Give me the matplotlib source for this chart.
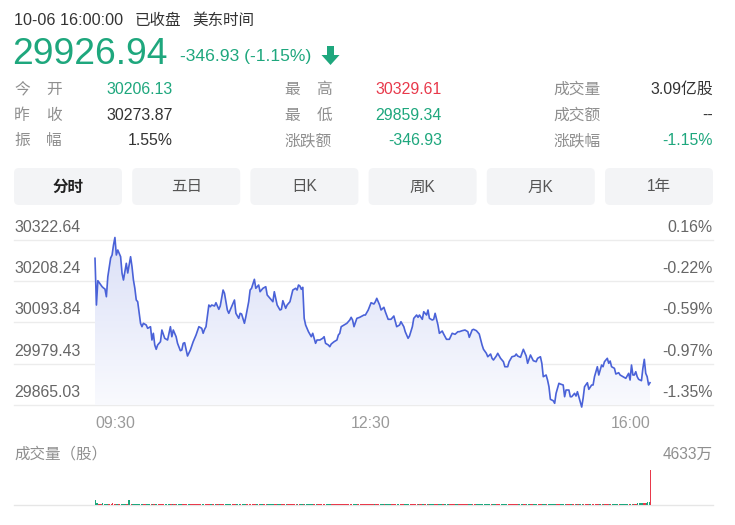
import numpy as np
import matplotlib
matplotlib.use('Agg')
import matplotlib.pyplot as plt
import matplotlib.transforms as mtransforms
from matplotlib.patches import FancyBboxPatch, Polygon, PathPatch
from matplotlib.path import Path
from matplotlib.colors import LinearSegmentedColormap

FONT = ['Liberation Sans', 'Noto Sans CJK SC']
plt.rcParams['font.family'] = FONT

# ---------------- data ----------------
header_time = '10-06 16:00:00'
header_status = '已收盘'
header_zone = '美东时间'
last_price = '29926.94'
change_text = '-346.93 (-1.15%)'
prev_close = 30273.87

stat_labels = [['今开', '昨收', '振幅'],
               ['最高', '最低', '涨跌额'],
               ['成交量', '成交额', '涨跌幅']]
stat_values = [['30206.13', '30273.87', '1.55%'],
               ['30329.61', '29859.34', '-346.93'],
               ['3.09亿股', '--', '-1.15%']]
stat_kinds = [['down', 'flat', 'flat'],
              ['up', 'down', 'down'],
              ['flat', 'flat', 'down']]

tabs = ['分时', '五日', '日K', '周K', '月K', '1年']

price_levels = [30322.64, 30208.24, 30093.84, 29979.43, 29865.03]
time_labels = ['09:30', '12:30', '16:00']
time_ticks = [0, 180, 390]
volume_title = '成交量（股）'
volume_max_label = '4633万'
volume_max = 4633

minutes = [0, 1, 2, 5, 6, 7, 8, 9, 11, 12, 13, 14, 15, 16, 18, 19, 20, 22, 23, 25,
           26, 27, 28, 29, 30, 32, 33, 34, 36, 37, 39, 40, 41, 42, 43, 44, 46, 47, 49, 51,
           53, 54, 55, 57, 58, 60, 61, 62, 63, 65, 67, 69, 71, 73, 75, 76, 77, 78, 80, 81,
           82, 84, 85, 87, 88, 90, 91, 93, 94, 96, 98, 99, 101, 102, 103, 105, 106, 108, 109, 110,
           112, 113, 115, 116, 118, 120, 121, 123, 125, 126, 128, 130, 131, 132, 134, 135, 137, 139, 141, 142,
           143, 144, 145, 146, 147, 148, 150, 152, 153, 155, 156, 158, 160, 161, 162, 164, 165, 166, 168, 170,
           171, 172, 173, 175, 177, 179, 180, 181, 182, 184, 186, 189, 190, 192, 194, 196, 197, 198, 200, 201,
           203, 204, 206, 208, 210, 212, 214, 215, 217, 218, 220, 221, 223, 224, 226, 227, 228, 230, 231, 233,
           234, 235, 237, 238, 239, 241, 242, 244, 245, 247, 249, 251, 253, 255, 256, 258, 260, 262, 263, 265,
           266, 268, 270, 272, 273, 275, 276, 278, 279, 280, 282, 283, 285, 287, 288, 290, 291, 293, 295, 296,
           297, 299, 301, 303, 304, 306, 308, 310, 311, 313, 314, 315, 317, 318, 319, 320, 322, 323, 324, 326,
           327, 329, 330, 331, 333, 334, 335, 337, 338, 339, 340, 342, 343, 344, 346, 347, 349, 350, 351, 353,
           354, 356, 357, 358, 360, 361, 362, 363, 365, 366, 368, 369, 371, 373, 375, 376, 377, 378, 379, 380,
           381, 382, 384, 385, 386, 387, 388, 389, 390]

prices = [30271.9, 30142.3, 30209.8, 30193.1, 30189.5, 30186.7, 30165.3, 30220.8, 30272.7, 30281.0,
          30308.8, 30329.61, 30281.0, 30294.9, 30276.3, 30230.3, 30211.7, 30258.0, 30231.1, 30276.3,
          30248.6, 30211.7, 30188.7, 30156.2, 30151.5, 30091.6, 30082.2, 30091.6, 30086.9, 30077.7,
          30082.2, 30045.3, 30063.9, 30031.4, 30019.5, 30031.4, 30040.6, 30073.0, 30050.0, 30045.3,
          30082.2, 30054.4, 30073.0, 30054.4, 30036.1, 30015.6, 30017.5, 30036.1, 30037.8, 30000.9,
          30017.5, 30040.6, 30059.1, 30082.2, 30077.7, 30063.9, 30074.9, 30082.2, 30142.3, 30137.6,
          30142.3, 30139.6, 30148.7, 30130.4, 30139.6, 30183.9, 30174.8, 30128.5, 30119.3, 30137.6,
          30156.2, 30119.3, 30105.4, 30119.3, 30117.4, 30091.6, 30109.9, 30151.5, 30183.9, 30188.7,
          30213.6, 30188.7, 30197.8, 30179.2, 30188.7, 30193.1, 30170.1, 30160.9, 30151.5, 30179.2,
          30142.3, 30128.5, 30130.4, 30154.3, 30133.2, 30142.3, 30151.5, 30183.9, 30188.7, 30183.9,
          30197.8, 30195.0, 30185.9, 30191.4, 30105.4, 30086.9, 30068.3, 30054.4, 30063.9, 30036.1,
          30045.3, 30045.3, 30050.0, 30054.4, 30036.1, 30031.4, 30026.7, 30034.2, 30040.6, 30045.3,
          30059.1, 30063.9, 30082.2, 30086.9, 30091.6, 30100.7, 30108.2, 30100.7, 30082.2, 30105.4,
          30108.2, 30114.6, 30114.6, 30128.5, 30148.7, 30145.1, 30151.5, 30160.9, 30142.3, 30128.5,
          30136.0, 30123.7, 30102.7, 30102.7, 30111.8, 30082.2, 30086.9, 30096.0, 30082.2, 30068.3,
          30050.0, 30056.4, 30082.2, 30105.4, 30114.6, 30108.2, 30114.6, 30102.7, 30123.7, 30114.6,
          30128.5, 30105.4, 30100.7, 30102.7, 30119.3, 30086.9, 30063.9, 30070.2, 30061.9, 30047.2,
          30047.2, 30063.9, 30061.1, 30068.3, 30068.3, 30071.1, 30073.0, 30068.3, 30052.7, 30073.0,
          30074.9, 30071.1, 30061.9, 30031.4, 30019.5, 30008.4, 29998.9, 30006.4, 29994.5, 29989.8,
          30000.9, 30008.4, 29994.5, 29985.1, 29971.2, 29971.2, 29985.1, 29998.9, 30000.9, 30006.4,
          30000.9, 29997.3, 30019.5, 30000.9, 29980.6, 30003.7, 29987.9, 29985.1, 29994.5, 29998.9,
          29980.6, 29943.5, 29948.2, 29934.3, 29915.7, 29880.8, 29876.9, 29869.7, 29897.4, 29925.2,
          29923.2, 29920.5, 29888.0, 29906.6, 29906.6, 29888.0, 29888.0, 29897.4, 29889.9, 29901.9,
          29888.0, 29859.34, 29883.6, 29915.7, 29926.8, 29908.5, 29920.5, 29920.5, 29943.5, 29971.2,
          29948.2, 29975.9, 29971.2, 29985.1, 29994.5, 29980.6, 29987.0, 29971.2, 29966.8, 29951.0,
          29954.6, 29948.2, 29943.5, 29939.0, 29952.9, 29934.3, 29975.9, 29948.2, 29948.2, 29957.4,
          29943.5, 29936.3, 29932.4, 29966.8, 29991.7, 29952.9, 29943.5, 29920.5, 29926.94]

volumes = [650, 210, 190, 200, 180, 170, 185, 175, 190, 200, 180, 170, 165, 175, 185, 170, 160, 175, 620,
           130, 110, 120, 95, 105, 125, 100, 90, 115, 105,
           98, 112, 104, 88, 120, 96, 108, 92, 101, 115,
           94, 106, 99, 87, 118, 103, 91, 109, 97, 102,
           89, 111, 95, 104, 86, 99, 113, 92, 100, 107,
           93, 88, 105, 97, 110, 84, 96, 102, 90, 99,
           86, 94, 101, 83, 97, 108, 91, 88, 95, 100,
           82, 90, 97, 86, 104, 93, 81, 95, 89, 98,
           85, 92, 80, 96, 88, 101, 87, 83, 94, 90,
           79, 87, 93, 84, 99, 81, 90, 86, 95, 83,
           88, 80, 92, 85, 78, 96, 84, 89, 82, 91,
           77, 86, 83, 94, 80, 88, 85, 79, 92, 84,
           81, 89, 76, 87, 83, 90, 78, 86, 82, 93,
           85, 79, 91, 83, 88, 77, 84, 90, 80, 86,
           92, 84, 89, 95, 86, 98, 90, 87, 101, 93,
           96, 88, 103, 91, 99, 94, 106, 89, 97, 102,
           95, 108, 99, 92, 104, 97, 110, 101, 94, 105,
           112, 98, 107, 103, 115, 100, 109, 118, 104, 111,
           106, 120, 113, 101, 116, 109, 124, 112, 107, 119,
           115, 110, 126, 118, 108, 121, 114, 129, 117, 123,
           119, 131, 112, 125, 120, 134, 116, 128, 122, 137,
           125, 118, 132, 127, 140, 121, 135, 129, 144, 131,
           138, 126, 142, 133, 147, 136, 129, 151, 140, 145,
           148, 139, 155, 143, 160, 150, 146, 162, 153, 158,
           165, 157, 170, 161, 176, 168, 182, 174, 190, 185,
           198, 210, 225, 240, 260, 285, 310, 340, 380, 4633]

# ---------------- styling ----------------
GREEN = '#1ea77d'
RED = '#e8394b'
DARK = '#333333'
GRAY = '#8f8f8f'
AXGRAY = '#666666'
LINE = '#4a62d8'
GRID = '#ececec'
kind_color = {'up': RED, 'down': GREEN, 'flat': DARK}

W, H = 735, 525
fig = plt.figure(figsize=(W / 100, H / 100), dpi=100)

# overlay axes in pixel coordinates (y downward)
ov = fig.add_axes([0, 0, 1, 1])
ov.set_xlim(0, W)
ov.set_ylim(H, 0)
ov.axis('off')

# header
ov.text(14, 25, header_time, fontsize=11.6, color=DARK, va='baseline')
ov.text(135, 25, header_status, fontsize=11.2, color=DARK, va='baseline')
ov.text(192, 25, header_zone, fontsize=11.2, color=DARK, va='baseline')
ov.text(12, 64, last_price, fontsize=26.8, color=GREEN, va='baseline')
ov.text(180, 61, change_text, fontsize=12.6, color=GREEN, va='baseline')
ov.add_patch(Polygon([(327, 46), (334, 46), (334, 55), (339.5, 55), (330.5, 65),
                      (321.5, 55), (327, 55)], closed=True, fc=GREEN, ec='none'))

# stats
label_x = [14, 284, 553]
value_x = [173, 442, 713]
row_y = [94, 120, 145]
for c in range(3):
    for r in range(3):
        lab = stat_labels[c][r]
        y = row_y[r]
        if len(lab) == 2:
            ov.text(label_x[c], y, lab[0], fontsize=11.3, color=GRAY, va='baseline', ha='left')
            ov.text(label_x[c] + 48, y, lab[1], fontsize=11.3, color=GRAY, va='baseline', ha='right')
        else:
            ov.text(label_x[c], y, lab, fontsize=11.3, color=GRAY, va='baseline', ha='left')
        ov.text(value_x[c], y, stat_values[c][r], fontsize=11.4,
                color=kind_color[stat_kinds[c][r]], va='baseline', ha='right')

# tabs
bw, gap = 108, 10.2
for i, t in enumerate(tabs):
    x0 = 14 + i * (bw + gap)
    ov.add_patch(FancyBboxPatch((x0, 168), bw, 37, boxstyle='round,pad=0,rounding_size=5',
                                fc='#f3f4f6', ec='none'))
    ov.text(x0 + bw / 2, 187, t, fontsize=11.2, ha='center', va='center',
            color='#222222' if i == 0 else '#555555',
            fontweight='bold' if i == 0 else 'normal')

# ---------------- price chart ----------------
ax = fig.add_axes([95 / W, 1 - 405 / H, 555 / W, 165 / H])
ax.axis('off')
ymin, ymax = price_levels[-1], price_levels[0]
xl, xr = (14 - 95) / 555, (713 - 95) / 555
for v in price_levels:
    ax.axhline(v, xmin=xl, xmax=xr, color=GRID, lw=1, clip_on=False, zorder=0)
    pct = (v / prev_close - 1) * 100
    ax.annotate(f'{v:.2f}', xy=(14 / W, v), xycoords=('figure fraction', 'data'),
                xytext=(0, 8), textcoords='offset pixels', fontsize=11.4,
                color=AXGRAY, ha='left', va='baseline', annotation_clip=False)
    ax.annotate(f'{pct:.2f}%', xy=(713 / W, v), xycoords=('figure fraction', 'data'),
                xytext=(0, 8), textcoords='offset pixels', fontsize=11.4,
                color=AXGRAY, ha='right', va='baseline', annotation_clip=False)

top = max(prices)
cmap = LinearSegmentedColormap.from_list('g', ['#f9fafe', '#dbe0f7'])
grad = np.linspace(1, 0, 256).reshape(-1, 1)
im = ax.imshow(grad, extent=[minutes[0], minutes[-1], ymin, top], aspect='auto',
               cmap=cmap, origin='upper', zorder=1, clip_on=True)
verts = [(minutes[0], ymin)] + list(zip(minutes, prices)) + [(minutes[-1], ymin)]
clip = PathPatch(Path(verts), transform=ax.transData, fc='none', ec='none')
ax.add_patch(clip)
im.set_clip_path(clip)
ax.plot(minutes, prices, color=LINE, lw=1.2, zorder=3, clip_on=False)
ax.set_xlim(0, 390)
ax.set_ylim(ymin, ymax)

tt = mtransforms.blended_transform_factory(ax.transData, fig.transFigure)
for lbl, t in zip(time_labels, time_ticks):
    ha = 'right' if t == time_ticks[-1] else 'left'
    ax.text(t, 1 - 428 / H, lbl, transform=tt, fontsize=11.4, color='#9a9a9a',
            ha=ha, va='baseline')

# ---------------- volume ----------------
ov.text(14, 459, volume_title, fontsize=11.2, color=GRAY, va='baseline')
ov.text(713, 459, volume_max_label, fontsize=11.2, color=GRAY, va='baseline', ha='right')

vx = fig.add_axes([95 / W, 1 - 505 / H, 555 / W, 35 / H])
vx.axis('off')
vx.set_xlim(0, 390)
vx.set_ylim(0, volume_max)
vx.axhline(0, xmin=xl, xmax=xr, color='#e6e6e6', lw=1, clip_on=False, zorder=0)
ref = [prev_close] + prices[:-1]
vcolors = [RED if p >= q else GREEN for p, q in zip(prices, ref)]
widths = [max(b - a, 1) * 0.9 for a, b in zip(minutes, minutes[1:] + [minutes[-1] + 1])]
vx.bar(minutes, volumes, width=widths, color=vcolors, align='edge', zorder=2, clip_on=False)

fig.savefig('out.png', dpi=100, facecolor='white')
